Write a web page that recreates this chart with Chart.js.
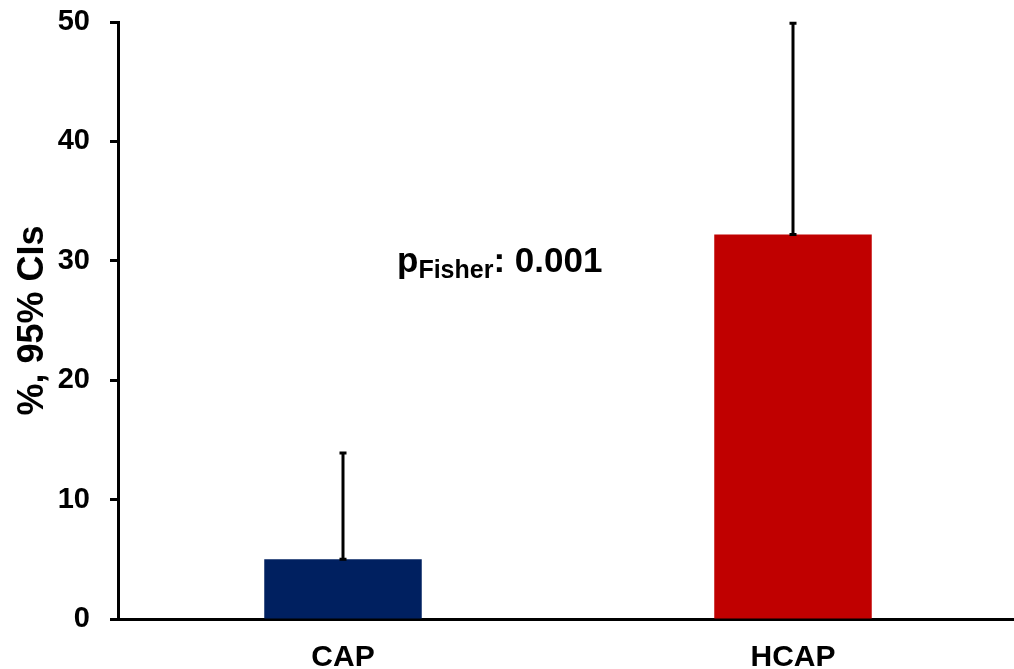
<!DOCTYPE html>
<html>
<head>
<meta charset="utf-8">
<script src="https://cdn.jsdelivr.net/npm/chart.js@4.4.1/dist/chart.umd.min.js"></script>
<style>
  html, body { margin: 0; padding: 0; background: #ffffff; overflow: hidden; }
  #wrap { position: relative; width: 1018px; height: 669px; }
</style>
</head>
<body>
<div id="wrap"><canvas id="chart"></canvas></div>
<script>
// Proportions with upper 95% confidence limits
const categories = ['CAP', 'HCAP'];
const percentValues = [5.0, 32.2];
const ciUpper = [13.9, 49.9];
const barColors = ['#002060', '#C00000'];
const yTicks = [0, 10, 20, 30, 40, 50];
const pLabel = { main: 'p', sub: 'Fisher', rest: ': 0.001' };

const FONT = '"Liberation Sans", Arial, Helvetica, sans-serif';

// Upper error bars with caps at both ends
const errorBars = {
  id: 'errorBars',
  afterDatasetsDraw(chart) {
    const { ctx, scales: { y } } = chart;
    const meta = chart.getDatasetMeta(0);
    ctx.save();
    ctx.strokeStyle = '#000000';
    ctx.lineWidth = 3;
    meta.data.forEach((bar, i) => {
      const x = bar.x;
      const yTop = y.getPixelForValue(ciUpper[i]);
      const yBase = y.getPixelForValue(percentValues[i]);
      ctx.beginPath();
      ctx.moveTo(x, yBase);
      ctx.lineTo(x, yTop);
      ctx.stroke();
      ctx.beginPath();
      ctx.moveTo(x - 3.5, yTop);
      ctx.lineTo(x + 3.5, yTop);
      ctx.moveTo(x - 3.5, yBase);
      ctx.lineTo(x + 3.5, yBase);
      ctx.stroke();
    });
    ctx.restore();
  }
};

// Test result annotation with subscript
const pAnnotation = {
  id: 'pAnnotation',
  afterDraw(chart) {
    const { ctx } = chart;
    ctx.save();
    ctx.fillStyle = '#000000';
    ctx.textBaseline = 'alphabetic';
    ctx.textAlign = 'left';
    let x = 397;
    const base = 272;
    ctx.font = 'bold 35px ' + FONT;
    ctx.fillText(pLabel.main, x, base);
    x += ctx.measureText(pLabel.main).width;
    ctx.font = 'bold 25px ' + FONT;
    ctx.fillText(pLabel.sub, x, base + 6);
    x += ctx.measureText(pLabel.sub).width;
    ctx.font = 'bold 35px ' + FONT;
    ctx.fillText(pLabel.rest, x, base);
    ctx.restore();
  }
};

new Chart(document.getElementById('chart'), {
  type: 'bar',
  data: {
    labels: categories,
    datasets: [{
      data: percentValues,
      backgroundColor: barColors,
      borderWidth: 0,
      barPercentage: 0.35,
      categoryPercentage: 1.0
    }]
  },
  options: {
    responsive: true,
    maintainAspectRatio: false,
    animation: false,
    events: [],
    layout: { padding: { top: 22, right: 0, bottom: 0, left: 0 } },
    plugins: {
      legend: { display: false },
      tooltip: { enabled: false }
    },
    scales: {
      x: {
        grid: { display: false, drawTicks: false },
        border: { display: true, color: '#000000', width: 3 },
        ticks: {
          color: '#000000',
          padding: 24,
          font: { family: FONT, size: 30, weight: 'bold', lineHeight: 1 }
        },
        afterFit(scale) { scale.height = 50; }
      },
      y: {
        min: 0,
        max: 50,
        afterBuildTicks(scale) { scale.ticks = yTicks.map(v => ({ value: v })); },
        grid: {
          display: true,
          drawOnChartArea: false,
          drawTicks: true,
          tickLength: 8,
          tickWidth: 3,
          tickColor: '#000000'
        },
        border: { display: true, color: '#000000', width: 3 },
        ticks: {
          color: '#000000',
          padding: 20,
          font: { family: FONT, size: 29, weight: 'bold' }
        },
        title: {
          display: true,
          text: '%, 95% CIs',
          color: '#000000',
          padding: { top: 11, bottom: 0 },
          font: { family: FONT, size: 36, weight: 'bold' }
        },
        afterFit(scale) {
          scale.width = 118;
          scale.paddingTop = 0;
          scale.paddingBottom = 0;
        }
      }
    }
  },
  plugins: [errorBars, pAnnotation]
});
</script>
</body>
</html>
